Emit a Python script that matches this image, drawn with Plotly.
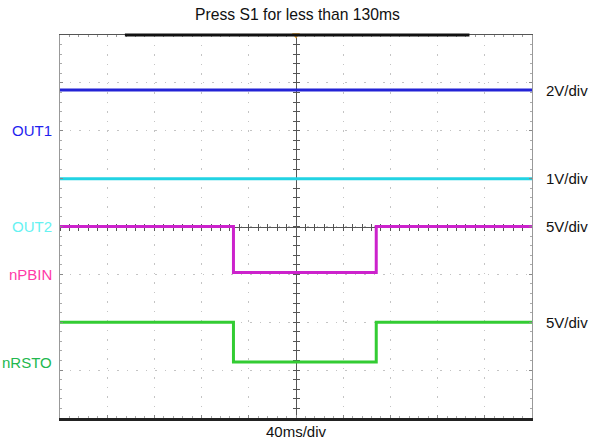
import plotly.graph_objects as go

# ---------------- data ----------------
title_text = "Press S1 for less than 130ms"
time_per_div_ms = 40
n_xdiv = 10
n_ydiv = 8

channels = ["OUT1", "OUT2", "nPBIN", "nRSTO"]
volts_per_div = [2, 1, 5, 5]
ground_div = [2, 0, -1, -3]          # channel ground offset (divisions from centre)

out1_t = [0, 400]
out1_v = [1.7, 1.7]
out2_t = [0, 400]
out2_v = [1.0, 1.0]
npbin_t = [0, 147, 268, 400]
npbin_v = [5.0, 0.2, 5.0, 5.0]
nrsto_t = [0, 147, 268, 400]
nrsto_v = [5.0, 0.85, 5.0, 5.0]

trigger_ms = 200
record_window_ms = [55, 347]

# ---------------- styles ----------------
trace_colors = ["#2323d6", "#22d3e3", "#cc22cc", "#33cc33"]
label_colors = ["#1f1fef", "#66f2f2", "#ff3aa8", "#22b84e"]
FONT = "Liberation Sans"

series_t = [out1_t, out2_t, npbin_t, nrsto_t]
series_v = [out1_v, out2_v, npbin_v, nrsto_v]

t_max = time_per_div_ms * n_xdiv
half = n_ydiv / 2

fig = go.Figure()

# invisible helper traces so the decorative centre / border axes get drawn
for xa, ya in [("x2", "y"), ("x3", "y"), ("x4", "y"), ("x", "y6"), ("x", "y7")]:
    fig.add_trace(go.Scatter(x=[trigger_ms], y=[0], mode="markers",
                             marker=dict(opacity=0), xaxis=xa, yaxis=ya,
                             showlegend=False, hoverinfo="skip"))

for i, name in enumerate(channels):
    fig.add_trace(go.Scatter(
        x=series_t[i], y=series_v[i], mode="lines",
        line=dict(color=trace_colors[i], width=3, shape="hv"),
        yaxis=f"y{i+2}", name=name, showlegend=False, hoverinfo="skip",
    ))

# trigger marker
fig.add_trace(go.Scatter(
    x=[trigger_ms], y=[half], mode="markers",
    marker=dict(symbol="triangle-down", size=7, color="#f0a020"),
    cliponaxis=False, showlegend=False, hoverinfo="skip",
))

layout = dict(
    width=595, height=443,
    margin=dict(l=60, r=63, t=35, b=25),
    paper_bgcolor="white", plot_bgcolor="white",
    showlegend=False,
    title=dict(text=title_text, x=0.5, xanchor="center", y=1 - 15 / 443,
               yanchor="middle", font=dict(family=FONT, size=15.7, color="#111")),
    xaxis=dict(range=[0, t_max], dtick=time_per_div_ms, showticklabels=False,
               showgrid=True, gridcolor="#c4c4c4", griddash="1.5px,8px", gridwidth=1,
               zeroline=False, showline=True, linecolor="#222", linewidth=3,
               ticks="inside", ticklen=3, tickcolor="#888",
               minor=dict(dtick=time_per_div_ms / 5, ticks="inside", ticklen=2,
                          tickcolor="#aaa", showgrid=False),
               fixedrange=True),
    yaxis=dict(range=[-half, half], dtick=1, showticklabels=False,
               showgrid=True, gridcolor="#c4c4c4", griddash="1.5px,8px", gridwidth=1,
               zeroline=False, showline=True, linecolor="#999", linewidth=1,
               mirror="ticks", ticks="inside", ticklen=3, tickcolor="#888",
               minor=dict(dtick=0.2, ticks="inside", ticklen=2, tickcolor="#aaa",
                          showgrid=False),
               fixedrange=True),
    # top border
    xaxis4=dict(range=[0, t_max], overlaying="x", side="top", anchor="y",
                showline=True, linecolor="#555", linewidth=1, showgrid=False,
                showticklabels=False, ticks="inside", ticklen=2, tickcolor="#999",
                dtick=time_per_div_ms / 5, zeroline=False, fixedrange=True),
    # centre cross (horizontal)
    xaxis2=dict(range=[0, t_max], overlaying="x", anchor="free", position=0.5,
                showline=True, linecolor="#555", linewidth=1, showgrid=False,
                showticklabels=False, ticks="inside", ticklen=3, tickcolor="#555",
                dtick=time_per_div_ms / 5, zeroline=False, layer="below traces",
                fixedrange=True),
    xaxis3=dict(range=[0, t_max], overlaying="x", anchor="free", position=0.5,
                showline=False, showgrid=False,
                showticklabels=False, ticks="outside", ticklen=3, tickcolor="#555",
                dtick=time_per_div_ms / 5, zeroline=False, layer="below traces",
                fixedrange=True),
    # centre cross (vertical)
    yaxis6=dict(range=[-half, half], overlaying="y", anchor="free", position=0.5,
                showline=True, linecolor="#555", linewidth=1, showgrid=False,
                showticklabels=False, ticks="inside", ticklen=3, tickcolor="#555",
                dtick=0.2, zeroline=False, layer="below traces", fixedrange=True),
    yaxis7=dict(range=[-half, half], overlaying="y", anchor="free", position=0.5,
                showline=False, showgrid=False,
                showticklabels=False, ticks="outside", ticklen=3, tickcolor="#555",
                dtick=0.2, zeroline=False, layer="below traces", fixedrange=True),
)

annotations = []
for i, name in enumerate(channels):
    s = volts_per_div[i]
    g = ground_div[i]
    layout[f"yaxis{i+2}"] = dict(range=[(-half - g) * s, (half - g) * s],
                                 overlaying="y", visible=False, fixedrange=True)
    # channel name at ground level (left)
    annotations.append(dict(
        text=name, xref="paper", x=0, xanchor="right", xshift=-6,
        yref=f"y{i+2}", y=0, yanchor="middle", yshift=(8 if i == 3 else 0),
        showarrow=False, font=dict(family=FONT, size=15, color=label_colors[i])))
    # scale at high level (right)
    annotations.append(dict(
        text=f"{s}V/div", xref="paper", x=1, xanchor="left", xshift=12,
        yref=f"y{i+2}", y=series_v[i][0], yanchor="middle",
        showarrow=False, font=dict(family=FONT, size=15, color="#111")))

annotations.append(dict(
    text=f"{time_per_div_ms}ms/div", xref="paper", x=0.5, xanchor="center",
    yref="paper", y=0, yanchor="top", yshift=-3,
    showarrow=False, font=dict(family=FONT, size=15, color="#111")))

layout["annotations"] = annotations
layout["shapes"] = [dict(type="line", xref="x", yref="paper",
                         x0=record_window_ms[0], x1=record_window_ms[1], y0=1, y1=1,
                         line=dict(color="#111", width=3))]

fig.update_layout(**layout)
fig.write_html("out.html", config={"displayModeBar": False},
               post_script="document.body.style.margin='0';document.body.style.overflow='hidden';")
